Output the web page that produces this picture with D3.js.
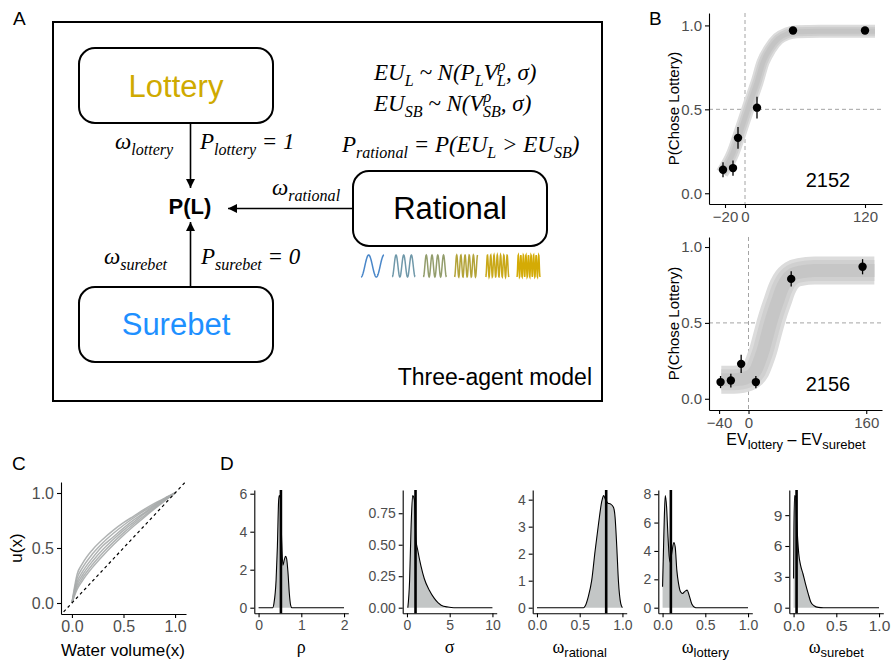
<!DOCTYPE html>
<html lang="en">
<head>
<meta charset="utf-8">
<script src="https://d3js.org/d3.v7.min.js"></script>
<style>
  body { margin: 0; background: #fff; }
  svg { display: block; }
</style>
</head>
<body>
<svg width="891" height="662"></svg>
<script>
const svg = d3.select("svg");
const sans = "'Liberation Sans', Arial, Helvetica, sans-serif";
const serif = "'Liberation Serif', 'Times New Roman', serif";
const tickGray = "#4d4d4d";

// ---------- data ----------
// B: rat 2152
const evTop = [-22, -12, -7, 12, 48, 120];
const pTop = [0.14, 0.15, 0.33, 0.51, 0.97, 0.97];
const errTop = [0.045, 0.045, 0.065, 0.065, 0.02, 0.02];
const bandXTop = [-23, -12, -5, 0, 5, 12, 18, 25, 33, 42, 52, 75, 130];
const bandYTop = [0.12, 0.24, 0.36, 0.45, 0.54, 0.66, 0.78, 0.86, 0.92, 0.95, 0.962, 0.965, 0.965];
// B: rat 2156
const evBot = [-38, -24, -10, 10, 58, 155];
const pBot = [0.11, 0.12, 0.23, 0.11, 0.79, 0.87];
const errBot = [0.04, 0.045, 0.06, 0.04, 0.05, 0.05];
const bandXBot = [-37, -25, -15, -5, 0, 5, 10, 15, 20, 25, 30, 35, 40, 45, 50, 60, 70, 90, 120, 150, 171];
const bandYBot = [0.125, 0.125, 0.127, 0.135, 0.145, 0.16, 0.19, 0.25, 0.32, 0.41, 0.5, 0.58, 0.65, 0.72, 0.77, 0.82, 0.835, 0.845, 0.846, 0.846, 0.846];

// C: utility curves
const waterX = [0, 0.05, 0.1, 0.2, 0.3, 0.4, 0.5, 0.6, 0.7, 0.8, 0.9, 1];
const utilCurves = [
  [0, 0.26, 0.355, 0.485, 0.58, 0.66, 0.73, 0.79, 0.85, 0.905, 0.954, 1],
  [0, 0.224, 0.316, 0.447, 0.548, 0.632, 0.707, 0.775, 0.837, 0.894, 0.949, 1],
  [0, 0.19, 0.28, 0.41, 0.52, 0.60, 0.68, 0.755, 0.82, 0.885, 0.944, 1],
  [0, 0.166, 0.25, 0.38, 0.486, 0.577, 0.66, 0.736, 0.81, 0.875, 0.939, 1],
  [0, 0.143, 0.224, 0.35, 0.457, 0.551, 0.637, 0.718, 0.793, 0.865, 0.934, 1],
  [0, 0.123, 0.2, 0.324, 0.43, 0.527, 0.616, 0.70, 0.779, 0.855, 0.929, 1]
];

// D: posterior densities
const rhoX = [0, 0.33, 0.36, 0.41, 0.44, 0.47, 0.485, 0.51, 0.54, 0.57, 0.60, 0.63, 0.655, 0.69, 0.72, 0.75, 0.78, 2];
const rhoD = [0, 0, 0.23, 1.45, 3.2, 5.65, 5.9, 5.8, 3.55, 2.24, 2.5, 2.7, 2.6, 1.8, 0.75, 0.14, 0, 0];
const sigmaX = [0.1, 0.31, 0.47, 0.66, 0.86, 1.05, 1.25, 1.64, 2.03, 2.6, 3.2, 4.0, 4.8, 5.5, 10];
const sigmaD = [0, 0.22, 0.62, 0.89, 0.86, 0.54, 0.46, 0.33, 0.23, 0.14, 0.074, 0.02, 0.005, 0, 0];
const ratX = [0, 0.545, 0.564, 0.60, 0.64, 0.68, 0.72, 0.76, 0.78, 0.80, 0.83, 0.86, 0.895, 0.914, 0.934, 0.953, 0.98, 1.0];
const ratD = [0, 0, 0.06, 0.4, 1.0, 2.1, 3.1, 3.96, 4.15, 4.02, 3.87, 3.84, 3.72, 3.35, 2.25, 1.0, 0.16, 0];
const lotX = [0, 0.016, 0.031, 0.047, 0.062, 0.078, 0.09, 0.109, 0.132, 0.148, 0.167, 0.187, 0.21, 0.233, 0.265, 0.288, 0.31, 0.342, 0.38, 0.4, 1];
const lotD = [1.47, 5.4, 7.9, 7.1, 5.2, 3.57, 3.2, 3.9, 4.6, 4.27, 2.63, 1.7, 1.12, 1.0, 1.17, 1.24, 0.89, 0.26, 0.02, 0, 0];
const sureX = [0, 0.004, 0.012, 0.024, 0.036, 0.06, 0.083, 0.11, 0.138, 0.17, 0.2, 0.24, 0.29, 0.35, 1];
const sureD = [2.85, 7.5, 10.9, 10.8, 8.5, 5.3, 4.1, 3.3, 2.36, 1.4, 0.58, 0.19, 0.03, 0, 0];
const postMeans = [0.523, 1.0, 0.81, 0.097, 0.035];

// ---------- helpers ----------
function styleAxis(g, fs) {
  g.select(".domain").attr("stroke", "#000").attr("stroke-width", 1.1);
  g.selectAll(".tick line").attr("stroke", "#000").attr("stroke-width", 1.1);
  g.selectAll(".tick text").attr("fill", tickGray).attr("font-size", fs).attr("font-family", sans);
}

function label(x, y, t) {
  svg.append("text").attr("x", x).attr("y", y).attr("font-family", sans)
    .attr("font-size", 19).text(t);
}

// ---------- Panel A ----------
const gA = svg.append("g");
label(13, 25, "A");
gA.append("rect").attr("x", 53).attr("y", 22).attr("width", 549).attr("height", 379)
  .attr("fill", "none").attr("stroke", "#000").attr("stroke-width", 2);

function box(x, y, w, h) {
  gA.append("rect").attr("x", x).attr("y", y).attr("width", w).attr("height", h)
    .attr("rx", 16).attr("fill", "#fff").attr("stroke", "#000").attr("stroke-width", 2);
}
box(79, 48, 194, 75);
box(353, 171, 194, 75);
box(79, 287, 194, 75);

gA.append("text").attr("x", 176).attr("y", 97).attr("text-anchor", "middle")
  .attr("font-family", sans).attr("font-size", 31).attr("fill", "#cfaa00").text("Lottery");
gA.append("text").attr("x", 450).attr("y", 219).attr("text-anchor", "middle")
  .attr("font-family", sans).attr("font-size", 31).attr("fill", "#000").text("Rational");
gA.append("text").attr("x", 176).attr("y", 335).attr("text-anchor", "middle")
  .attr("font-family", sans).attr("font-size", 31).attr("fill", "#1e90ff").text("Surebet");
gA.append("text").attr("x", 190).attr("y", 214).attr("text-anchor", "middle")
  .attr("font-family", sans).attr("font-weight", "bold").attr("font-size", 22).text("P(L)");
gA.append("text").attr("x", 592).attr("y", 385).attr("text-anchor", "end")
  .attr("font-family", sans).attr("font-size", 23).text("Three-agent model");

function arrow(x1, y1, x2, y2) {
  gA.append("line").attr("x1", x1).attr("y1", y1).attr("x2", x2).attr("y2", y2)
    .attr("stroke", "#000").attr("stroke-width", 1.6);
  const a = Math.atan2(y2 - y1, x2 - x1), L = 9, W = 4.5;
  const bx = x2 - L * Math.cos(a), by = y2 - L * Math.sin(a);
  const pts = [[x2, y2], [bx - W * Math.sin(a), by + W * Math.cos(a)], [bx + W * Math.sin(a), by - W * Math.cos(a)]];
  gA.append("polygon").attr("points", pts.map(p => p.join(",")).join(" ")).attr("fill", "#000");
}
arrow(190.5, 123, 190.5, 188);
arrow(190.5, 287, 190.5, 222);
arrow(353, 208.5, 228, 208.5);

// math text with sub / superscripts
function mathText(x, y, parts, fs) {
  const t = gA.append("text").attr("x", x).attr("y", y)
    .attr("font-family", serif).attr("font-style", "italic").attr("font-size", fs);
  const small = fs * 0.7;
  let shift = 0;
  parts.forEach(p => {
    if (typeof p === "string") {
      t.append("tspan").attr("dy", -shift).text(p);
      shift = 0;
    } else if (p.sub && p.sup) {
      t.append("tspan").attr("dy", -shift - fs * 0.4).attr("font-size", small).text(p.sup);
      t.append("tspan").attr("dx", -small * 0.52).attr("dy", fs * 0.4 + fs * 0.28)
        .attr("font-size", small).text(p.sub);
      shift = fs * 0.28;
    } else if (p.sub) {
      t.append("tspan").attr("dy", -shift + fs * 0.28).attr("font-size", small).text(p.sub);
      shift = fs * 0.28;
    }
  });
}
const mfs = 23;
mathText(374, 80, ["EU", {sub: "L"}, " ~ N(P", {sub: "L"}, "V", {sup: "ρ", sub: "L"}, ", σ)"], mfs);
mathText(374, 111, ["EU", {sub: "SB"}, " ~ N(V", {sup: "ρ", sub: "SB"}, ", σ)"], mfs);
mathText(342, 152, ["P", {sub: "rational"}, " = P(EU", {sub: "L"}, " > EU", {sub: "SB"}, ")"], mfs);
mathText(115, 149, ["ω", {sub: "lottery"}], mfs);
mathText(200, 149, ["P", {sub: "lottery"}, " = 1"], mfs);
mathText(272, 195, ["ω", {sub: "rational"}], mfs);
mathText(104, 264, ["ω", {sub: "surebet"}], mfs);
mathText(201, 264, ["P", {sub: "surebet"}, " = 0"], mfs);

// wavelet icons
const waveColors = ["#4a87c9", "#6f98a9", "#939d6c", "#b3a338", "#c9a818", "#d4ab05"];
const waveCycles = [1.5, 3, 4, 5.5, 7, 9];
waveCycles.forEach((c, i) => {
  const x0 = 361 + i * 31.2, w = 23, mid = 266, amp = 11;
  const pts = d3.range(0, 1.0001, 1 / 120).map(t => [x0 + t * w, mid + amp * Math.cos(2 * Math.PI * c * t)]);
  gA.append("path").attr("d", d3.line()(pts)).attr("fill", "none")
    .attr("stroke", waveColors[i]).attr("stroke-width", 1.5);
});

// ---------- Panel B ----------
label(649, 25, "B");
function psychPanel(cfg) {
  const x = d3.scaleLinear().domain(cfg.xDom).range([cfg.left, cfg.right]);
  const y = d3.scaleLinear().domain(cfg.yDom).range([cfg.bottom, cfg.top]);
  const g = svg.append("g");
  // reference lines
  g.append("line").attr("x1", x(0)).attr("x2", x(0)).attr("y1", cfg.top).attr("y2", cfg.bottom)
    .attr("stroke", "#9a9a9a").attr("stroke-width", 0.9).attr("stroke-dasharray", "4,3");
  g.append("line").attr("x1", cfg.left).attr("x2", cfg.right).attr("y1", y(0.5)).attr("y2", y(0.5))
    .attr("stroke", "#9a9a9a").attr("stroke-width", 0.9).attr("stroke-dasharray", "4,3");
  // posterior band
  const bandPts = cfg.bandX.map((v, i) => [x(v), y(cfg.bandY[i])]);
  const ln = d3.line().curve(d3.curveMonotoneX);
  cfg.bandW.forEach((w, i) => {
    g.append("path").attr("d", ln(bandPts)).attr("fill", "none")
      .attr("stroke", cfg.bandC[i]).attr("stroke-width", w)
      .attr("stroke-linejoin", "round");
  });
  // data
  cfg.ev.forEach((v, i) => {
    g.append("line").attr("x1", x(v)).attr("x2", x(v))
      .attr("y1", y(cfg.p[i] - cfg.err[i])).attr("y2", y(cfg.p[i] + cfg.err[i]))
      .attr("stroke", "#000").attr("stroke-width", 1.3);
    g.append("circle").attr("cx", x(v)).attr("cy", y(cfg.p[i])).attr("r", 4.2).attr("fill", "#000");
  });
  const ax = g.append("g").attr("transform", `translate(0,${cfg.bottom})`)
    .call(d3.axisBottom(x).tickValues(cfg.xTicks).tickSize(4).tickSizeOuter(0).tickPadding(3)
      .tickFormat(d => d < 0 ? "\u2212" + Math.abs(d) : d));
  styleAxis(ax, 15);
  const ay = g.append("g").attr("transform", `translate(${cfg.left},0)`)
    .call(d3.axisLeft(y).tickValues([0, 0.5, 1]).tickSize(4).tickSizeOuter(0).tickPadding(3)
      .tickFormat(d3.format(".1f")));
  styleAxis(ay, 15);
  g.append("text").attr("transform", `translate(679,${(cfg.top + cfg.bottom) / 2}) rotate(-90)`)
    .attr("text-anchor", "middle").attr("font-family", sans).attr("font-size", 15)
    .text("P(Chose Lottery)");
  g.append("text").attr("x", 828).attr("y", cfg.idY).attr("text-anchor", "middle")
    .attr("font-family", sans).attr("font-size", 20).text(cfg.id);
}
psychPanel({
  xDom: [-36, 137], left: 709, right: 882, yDom: [-0.064, 1.074], top: 13, bottom: 204,
  bandX: bandXTop, bandY: bandYTop, bandW: [13, 9, 5], bandC: ["#dcdcdc", "#cdcdcd", "#c4c4c4"],
  ev: evTop, p: pTop, err: errTop, xTicks: [-20, 0, 120], id: "2152", idY: 187
});
psychPanel({
  xDom: [-53.7, 181.4], left: 709, right: 882, yDom: [-0.074, 1.066], top: 237, bottom: 410,
  bandX: bandXBot, bandY: bandYBot, bandW: [28, 21, 13], bandC: ["#dcdcdc", "#d0d0d0", "#c6c6c6"],
  ev: evBot, p: pBot, err: errBot, xTicks: [-40, 0, 160], id: "2156", idY: 391
});
{
  const t = svg.append("text").attr("x", 796).attr("y", 445).attr("text-anchor", "middle")
    .attr("font-family", sans).attr("font-size", 16);
  t.append("tspan").text("EV");
  t.append("tspan").attr("dy", 4).attr("font-size", 13).text("lottery");
  t.append("tspan").attr("dy", -4).text(" \u2013 EV");
  t.append("tspan").attr("dy", 4).attr("font-size", 13).text("surebet");
}

// ---------- Panel C ----------
label(12, 470, "C");
{
  const x = d3.scaleLinear().domain([-0.106, 1.106]).range([61, 186]);
  const y = d3.scaleLinear().domain([-0.1, 1.1]).range([614, 482]);
  const g = svg.append("g");
  g.append("clipPath").attr("id", "clipC").append("rect")
    .attr("x", 61).attr("y", 482).attr("width", 125).attr("height", 132);
  const ln = d3.line().curve(d3.curveMonotoneX);
  utilCurves.forEach(c => {
    g.append("path").attr("d", ln(waterX.map((v, i) => [x(v), y(c[i])])))
      .attr("fill", "none").attr("stroke", "#a7abab").attr("stroke-width", 1.5).attr("opacity", 0.9);
  });
  g.append("line").attr("clip-path", "url(#clipC)")
    .attr("x1", x(-0.2)).attr("y1", y(-0.2)).attr("x2", x(1.2)).attr("y2", y(1.2))
    .attr("stroke", "#000").attr("stroke-width", 1.2).attr("stroke-dasharray", "3,3");
  const ax = g.append("g").attr("transform", "translate(0,614)")
    .call(d3.axisBottom(x).tickValues([0, 0.5, 1]).tickSize(4).tickSizeOuter(0).tickPadding(3).tickFormat(d3.format(".1f")));
  styleAxis(ax, 16);
  const ay = g.append("g").attr("transform", "translate(61,0)")
    .call(d3.axisLeft(y).tickValues([0, 0.5, 1]).tickSize(4).tickSizeOuter(0).tickPadding(3).tickFormat(d3.format(".1f")));
  styleAxis(ay, 16);
  g.append("text").attr("transform", "translate(22,548) rotate(-90)").attr("text-anchor", "middle")
    .attr("font-family", sans).attr("font-size", 17).text("u(x)");
  g.append("text").attr("x", 123).attr("y", 656).attr("text-anchor", "middle")
    .attr("font-family", sans).attr("font-size", 17).text("Water volume(x)");
}

// ---------- Panel D ----------
label(220, 470, "D");
const dPanels = [
  {left: 254.3, xMax: 2, xs: rhoX, ds: rhoD, yTicks: [0, 2, 4, 6], yFmt: d3.format("d"), xTicks: [0, 1, 2], xFmt: d3.format("d"), fs: 14, name: "ρ"},
  {left: 402.7, xMax: 10, xs: sigmaX, ds: sigmaD, yTicks: [0, 0.25, 0.5, 0.75], yFmt: d3.format(".2f"), xTicks: [0, 5, 10], xFmt: d3.format("d"), fs: 14, name: "σ"},
  {left: 532.7, xMax: 1, xs: ratX, ds: ratD, yTicks: [0, 1, 2, 3, 4], yFmt: d3.format("d"), xTicks: [0, 0.5, 1], xFmt: d3.format(".1f"), fs: 14, name: "ω", sub: "rational"},
  {left: 658.3, xMax: 1, xs: lotX, ds: lotD, yTicks: [0, 2, 4, 6, 8], yFmt: d3.format("d"), xTicks: [0, 0.5, 1], xFmt: d3.format(".1f"), fs: 14, name: "ω", sub: "lottery"},
  {left: 789.3, xMax: 1, xs: sureX, ds: sureD, yTicks: [0, 3, 6, 9], yFmt: d3.format("d"), xTicks: [0, 0.5, 1], xFmt: d3.format(".1f"), fs: 15.5, name: "ω", sub: "surebet"}
];
dPanels.forEach((p, k) => {
  const top = 490, bottom = 613.3, w = 94;
  const M = d3.max(p.ds);
  const x = d3.scaleLinear().domain([-0.05 * p.xMax, 1.05 * p.xMax]).range([p.left, p.left + w]);
  const y = d3.scaleLinear().domain([-0.05 * M, 1.05 * M]).range([bottom, top]);
  const g = svg.append("g");
  const pts = p.xs.map((v, i) => [v, p.ds[i]]);
  g.append("path").datum(pts)
    .attr("d", d3.area().curve(d3.curveMonotoneX).x(d => x(d[0])).y0(y(0)).y1(d => y(d[1])))
    .attr("fill", "#c3c6c6");
  g.append("path").datum(pts)
    .attr("d", d3.line().curve(d3.curveMonotoneX).x(d => x(d[0])).y(d => y(d[1])))
    .attr("fill", "none").attr("stroke", "#000").attr("stroke-width", 1.1);
  g.append("line").attr("x1", x(postMeans[k])).attr("x2", x(postMeans[k]))
    .attr("y1", top).attr("y2", bottom).attr("stroke", "#000").attr("stroke-width", 2.6);
  const ax = g.append("g").attr("transform", `translate(0,${bottom})`)
    .call(d3.axisBottom(x).tickValues(p.xTicks).tickSize(4).tickSizeOuter(0).tickPadding(3).tickFormat(p.xFmt));
  styleAxis(ax, p.fs);
  const ay = g.append("g").attr("transform", `translate(${p.left},0)`)
    .call(d3.axisLeft(y).tickValues(p.yTicks).tickSize(4).tickSizeOuter(0).tickPadding(3).tickFormat(p.yFmt));
  styleAxis(ay, p.fs);
  const t = g.append("text").attr("x", p.left + 47).attr("y", 653).attr("text-anchor", "middle")
    .attr("font-size", 18);
  t.append("tspan").attr("font-family", serif).text(p.name);
  if (p.sub) {
    t.append("tspan").attr("font-family", sans).attr("font-size", 13).attr("dy", 4).text(p.sub);
  }
});
</script>
</body>
</html>
